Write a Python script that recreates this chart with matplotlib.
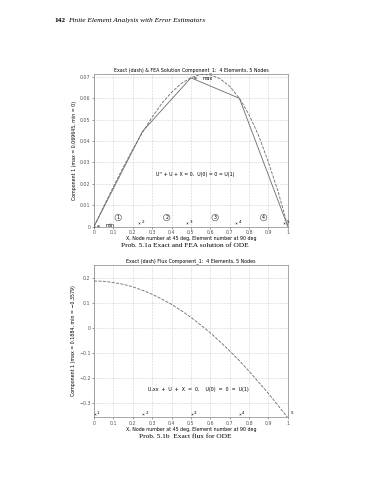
import numpy as np
import matplotlib
matplotlib.use('Agg')
import matplotlib.pyplot as plt

# FEA nodal solution and exact solution
x_nodes = [0.0, 0.25, 0.5, 0.75, 1.0]
u_fea = [0.0, 0.0445, 0.0696, 0.0600, 0.0]
x_ex = [0.0, 0.05, 0.1, 0.15, 0.2, 0.25, 0.3, 0.35, 0.4, 0.45, 0.5,
        0.55, 0.6, 0.65, 0.7, 0.75, 0.8, 0.85, 0.9, 0.95, 1.0]
u_ex = [0.0, 0.0094, 0.0186, 0.0276, 0.0361, 0.0440, 0.0512, 0.0576, 0.0628, 0.0669, 0.0697,
        0.0712, 0.0710, 0.0692, 0.0656, 0.0600, 0.0523, 0.0424, 0.0300, 0.0163, 0.0]
flux_ex = [0.188, 0.187, 0.182, 0.175, 0.165, 0.151, 0.135, 0.116, 0.095, 0.070, 0.043,
           0.013, -0.019, -0.054, -0.091, -0.130, -0.172, -0.216, -0.261, -0.309, -0.358]
elem_x = [0.125, 0.375, 0.625, 0.875]
elem_lbl = ['1', '2', '3', '4']
node_lbl = ['1', '2', '3', '4', '5']

GR = '#6a6a6a'
FS = 3.4
plt.rcParams['font.family'] = 'DejaVu Sans'
fig = plt.figure(figsize=(3.7, 4.8), dpi=100)
fig.text(0.146, 0.954, '142', fontsize=5.3, weight='bold', family='Liberation Serif')
fig.text(0.184, 0.954, 'Finite Element Analysis with Error Estimators', fontsize=5.3,
         style='italic', family='Liberation Serif')

def style(ax):
    ax.set_xlim(0, 1)
    ax.set_xticks(np.arange(0, 1.01, 0.1))
    ax.set_xticklabels(['0', '0.1', '0.2', '0.3', '0.4', '0.5', '0.6', '0.7', '0.8', '0.9', '1'])
    ax.tick_params(labelsize=FS, length=1.5, width=0.4, colors='#555555', pad=1.0)
    ax.grid(True, ls=':', lw=0.4, color='#aaaaaa')
    for s in ax.spines.values():
        s.set_linewidth(0.4); s.set_color('#666666')
    ax.set_xlabel('X, Node number at 45 deg, Element number at 90 deg', fontsize=FS, labelpad=0.8)

# ---- top: solution ----
ax1 = fig.add_axes([0.254, 0.528, 0.524, 0.317])
ax1.plot(x_ex, u_ex, '--', color=GR, lw=0.6)
ax1.plot(x_nodes, u_fea, '-', color=GR, lw=0.6)
ax1.set_ylim(0, 0.0712)
ax1.set_yticks([0, 0.01, 0.02, 0.03, 0.04, 0.05, 0.06, 0.07])
ax1.set_yticklabels(['0', '0.01', '0.02', '0.03', '0.04', '0.05', '0.06', '0.07'])
style(ax1)
ax1.set_title('Exact (dash) & FEA Solution Component_1:  4 Elements, 5 Nodes', fontsize=FS, pad=2)
ax1.set_ylabel('Component 1 (max = 0.069645, min = 0)', fontsize=FS, labelpad=2)
ax1.text(0.32, 0.0235, "U'' + U + X = 0,  U(0) = 0 = U(1)", fontsize=FS)
ax1.annotate('max', xy=(x_nodes[2], u_fea[2]), xytext=(0.56, 0.0692), fontsize=FS,
             arrowprops=dict(arrowstyle='->', lw=0.4, color='#444444'), va='center')
ax1.annotate('min', xy=(x_nodes[0], u_fea[0]), xytext=(0.06, 0.0006), fontsize=FS,
             arrowprops=dict(arrowstyle='->', lw=0.4, color='#444444'), va='center')
for xe, lb in zip(elem_x, elem_lbl):
    ax1.text(xe, 0.0042, lb, fontsize=FS, ha='center', va='center',
             bbox=dict(boxstyle='circle,pad=0.15', fc='none', ec='#444444', lw=0.4))
for xn, lb in zip(x_nodes[1:], node_lbl[1:]):
    ax1.plot(xn - 0.02, 0.0015, marker='x', ms=1.2, mew=0.4, color='#444444')
    ax1.text(xn - 0.005, 0.0022, lb, fontsize=FS - 0.4, ha='left', va='center')
ax1.plot(0, 0, marker='x', ms=1.5, mew=0.4, color='#444444')
fig.text(0.5, 0.488, 'Prob. 5.1a Exact and FEA solution of ODE', fontsize=5.3,
         ha='center', va='center', family='Liberation Serif')

# ---- bottom: flux ----
ax2 = fig.add_axes([0.254, 0.131, 0.524, 0.317])
ax2.plot(x_ex, flux_ex, '--', color=GR, lw=0.6)
ax2.set_ylim(-0.355, 0.252)
ax2.set_yticks([-0.3, -0.2, -0.1, 0, 0.1, 0.2])
ax2.set_yticklabels(['\u22120.3', '\u22120.2', '\u22120.1', '0', '0.1', '0.2'])
style(ax2)
ax2.set_title('Exact (dash) Flux Component_1:  4 Elements, 5 Nodes', fontsize=FS, pad=2)
ax2.set_ylabel('Component 1 (max = 0.1884, min = \u22120.3579)', fontsize=FS, labelpad=2)
ax2.text(0.28, -0.25, 'U,xx  +  U  +  X  =  0,    U(0)  =  0  =  U(1)', fontsize=FS)
for xn, lb in zip(x_nodes, node_lbl):
    ax2.plot(xn + 0.005, -0.343, marker='x', ms=1.2, mew=0.4, color='#444444')
    ax2.text(xn + 0.015, -0.338, lb, fontsize=FS - 0.4, ha='left', va='center')
fig.text(0.5, 0.091, 'Prob. 5.1b  Exact flux for ODE', fontsize=5.3,
         ha='center', va='center', family='Liberation Serif')

fig.savefig('out.png', dpi=100)
